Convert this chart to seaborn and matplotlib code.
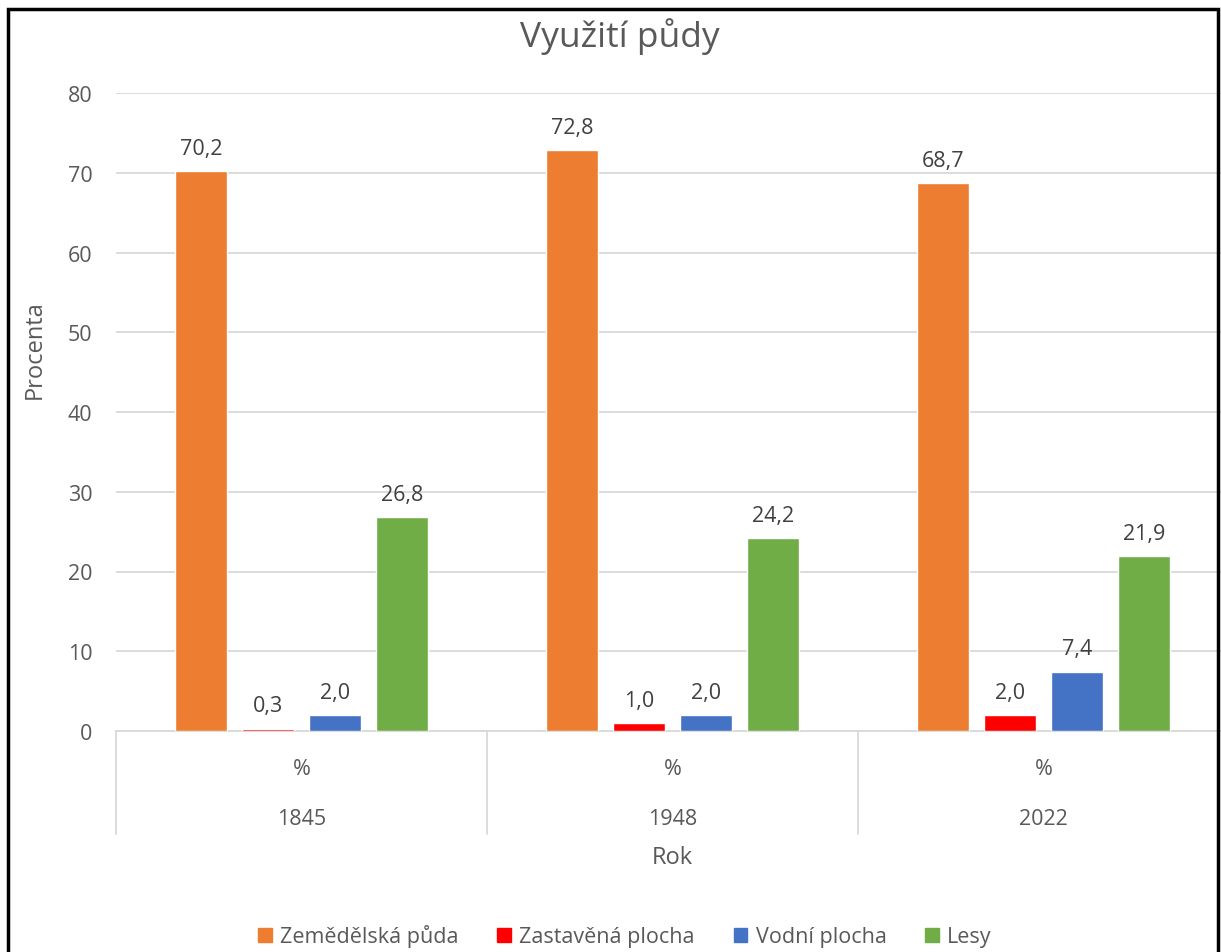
import pandas as pd
import seaborn as sns
import matplotlib.pyplot as plt
from matplotlib.patches import Rectangle
from matplotlib.transforms import blended_transform_factory

# --- data ---
years = ['1845', '1948', '2022']
categories = ['Zemědělská půda', 'Zastavěná plocha', 'Vodní plocha', 'Lesy']
zemedelska = [70.2, 72.8, 68.7]
zastavena = [0.3, 1.0, 2.0]
vodni = [2.0, 2.0, 7.4]
lesy = [26.8, 24.2, 21.9]
colors = ['#ED7D31', '#FF0000', '#4472C4', '#70AD47']

rows = []
for cat, vals in zip(categories, [zemedelska, zastavena, vodni, lesy]):
    for y, v in zip(years, vals):
        rows.append({'Rok': y, 'Typ': cat, 'Procenta': v})
df = pd.DataFrame(rows)

sns.set_style('white')
plt.rcParams['font.family'] = ['Open Sans', 'DejaVu Sans']
text_col = '#595959'
grid_col = '#D9D9D9'
fs = 15.5

fig = plt.figure(figsize=(12.21, 9.53), dpi=100)
W, H = 1221, 953
ax = fig.add_axes([116 / W, (H - 732) / H, (1229 - 116) / W, (732 - 94) / H])

sns.barplot(data=df, x='Rok', y='Procenta', hue='Typ', hue_order=categories,
            order=years, palette=colors, width=0.724, gap=0.22,
            saturation=1, ax=ax, legend=True, zorder=3)

ax.set_xlim(-0.5, 2.5)
ax.set_ylim(0, 80)
ax.set_yticks(range(0, 81, 10))
ax.yaxis.grid(True, color=grid_col, lw=1.3, zorder=0)
for s in ['top', 'right', 'left']:
    ax.spines[s].set_visible(False)
ax.spines['bottom'].set_color(grid_col)
ax.spines['bottom'].set_linewidth(1.3)
ax.tick_params(axis='y', length=0, pad=17, labelsize=fs, labelcolor=text_col)
ax.set_xticks(range(len(years)))
ax.set_xticklabels([])
ax.tick_params(axis='x', length=0)

# "%" row, year row and category dividers below the axis
tr = blended_transform_factory(ax.transData, ax.transAxes)
px = 1 / (732 - 94)
for i, y in enumerate(years):
    ax.text(i, -38 * px, '%', transform=tr, ha='center', va='center',
            fontsize=fs, color=text_col)
    ax.text(i, -88 * px, y, transform=tr, ha='center', va='center',
            fontsize=fs, color=text_col)
for x in [-0.5, 0.5, 1.5, 2.5]:
    ax.plot([x, x], [0, -103 * px], transform=tr, color=grid_col, lw=1.3,
            clip_on=False)

# value labels
for cont in ax.containers:
    ax.bar_label(cont, labels=[f'{v:.1f}'.replace('.', ',') for v in cont.datavalues],
                 padding=9, fontsize=fs, color='#404040')

ax.set_xlabel('Rok', fontsize=17, color=text_col)
ax.xaxis.set_label_coords((672 - 116) / (1229 - 116), -114 * px)
ax.set_ylabel('Procenta', fontsize=17, color=text_col)
ax.yaxis.set_label_coords(-69 / (1229 - 116), 0.5 + 63 * px)

fig.text(620 / W, 1 - 37 / H, 'Využití půdy', ha='center', va='center',
         fontsize=25.5, color=text_col)

ax.get_legend().remove()
handles = [Rectangle((0, 0), 1, 1, color=c) for c in colors]
fig.legend(handles, categories, loc='center', bbox_to_anchor=(625 / W, 1 - 937 / H),
           ncol=4, frameon=False, fontsize=fs, labelcolor=text_col,
           handlelength=0.62, handleheight=0.62, handletextpad=0.4, columnspacing=1.8)

# screenshot frame
fig.patches.append(Rectangle((8 / W, -0.02), (1218 - 8) / W, 1.02 - 10 / H,
                             transform=fig.transFigure, fill=False,
                             edgecolor='black', lw=2.5, zorder=10))

plt.savefig('out.png', dpi=100)
